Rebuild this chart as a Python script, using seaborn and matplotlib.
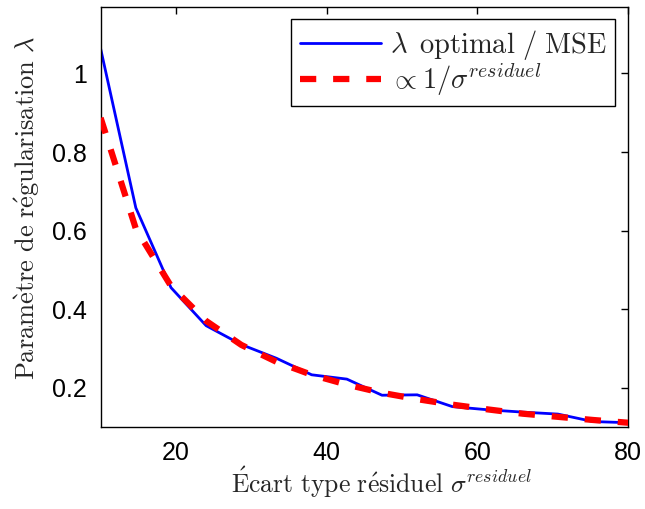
import numpy as np
import pandas as pd
import matplotlib
matplotlib.use("Agg")
import matplotlib.pyplot as plt
import seaborn as sns

# Data
sigma = [10, 14.67, 19.33, 24, 28.67, 33.33, 38, 42.67, 47.33, 52, 56.67, 61.33, 66, 70.67, 75.33, 80]
lambda_opt = [1.063, 0.658, 0.455, 0.358, 0.310, 0.275, 0.233, 0.222, 0.181, 0.182, 0.152, 0.144, 0.138, 0.133, 0.114, 0.111]
prop_fit = [0.887, 0.605, 0.459, 0.370, 0.309, 0.266, 0.233, 0.208, 0.187, 0.171, 0.157, 0.145, 0.134, 0.126, 0.118, 0.111]

label_opt = r'$\lambda\ \,\mathrm{optimal\ /\ MSE}$'
label_fit = r'$\propto 1/\sigma^{residuel}$'
xticks = [20, 40, 60, 80]
yticks = [0.2, 0.4, 0.6, 0.8, 1.0]
ytick_labels = ['0.2', '0.4', '0.6', '0.8', '1']

sns.set_style('white')
plt.rcParams['font.family'] = ['Liberation Sans', 'DejaVu Sans']
plt.rcParams['mathtext.fontset'] = 'cm'

df = pd.DataFrame({
    'sigma': sigma * 2,
    'lam': lambda_opt + prop_fit,
    'serie': [label_opt] * len(sigma) + [label_fit] * len(sigma),
})

fig = plt.figure(figsize=(6.45, 5.09), dpi=100)
ax = fig.add_axes([0.156, 0.161, 0.818, 0.826])

sns.lineplot(data=df, x='sigma', y='lam', hue='serie', style='serie',
             palette={label_opt: '#0000ff', label_fit: '#ff0000'},
             dashes={label_opt: '', label_fit: (2.6, 2.7)},
             ax=ax, legend=True, sort=False)

lines = ax.get_lines()
lines[0].set_linewidth(2.0)
lines[1].set_linewidth(4.5)
lines[1].set_dash_capstyle('butt')
lines[1].set_zorder(3)

ax.set_xlim(10, 80)
ax.set_ylim(0.1, 1.17)
ax.set_xticks(xticks)
ax.set_xticklabels([str(t) for t in xticks])
ax.set_yticks(yticks)
ax.set_yticklabels(ytick_labels)
ax.tick_params(direction='in', length=5, width=1, top=True, right=True,
               labelsize=18, colors='black', pad=10)
for s in ax.spines.values():
    s.set_color('black')
    s.set_linewidth(1.0)

ax.set_xlabel(r'$\mathrm{\acute{E}cart\ type\ r\acute{e}siduel}\ \sigma^{residuel}$', fontsize=18.5, labelpad=0)
ax.xaxis.label.set_x(0.533)
ax.set_ylabel(r'$\mathrm{Param\grave{e}tre\ de\ r\acute{e}gularisation}\ \lambda$', fontsize=19, labelpad=7)
ax.yaxis.label.set_y(0.52)

leg = ax.legend(loc='upper right', fontsize=20.5, frameon=True, fancybox=False,
                edgecolor='black', framealpha=1, borderpad=0.3, handlelength=2.85,
                labelspacing=0.0, handletextpad=0.3, borderaxespad=0.45)
leg.get_frame().set_linewidth(1.0)
lh = leg.get_lines()
lh[0].set_linewidth(2.0)
lh[1].set_linewidth(4.5)
lh[1].set_dash_capstyle('butt')

fig.savefig('out.png', dpi=100)
